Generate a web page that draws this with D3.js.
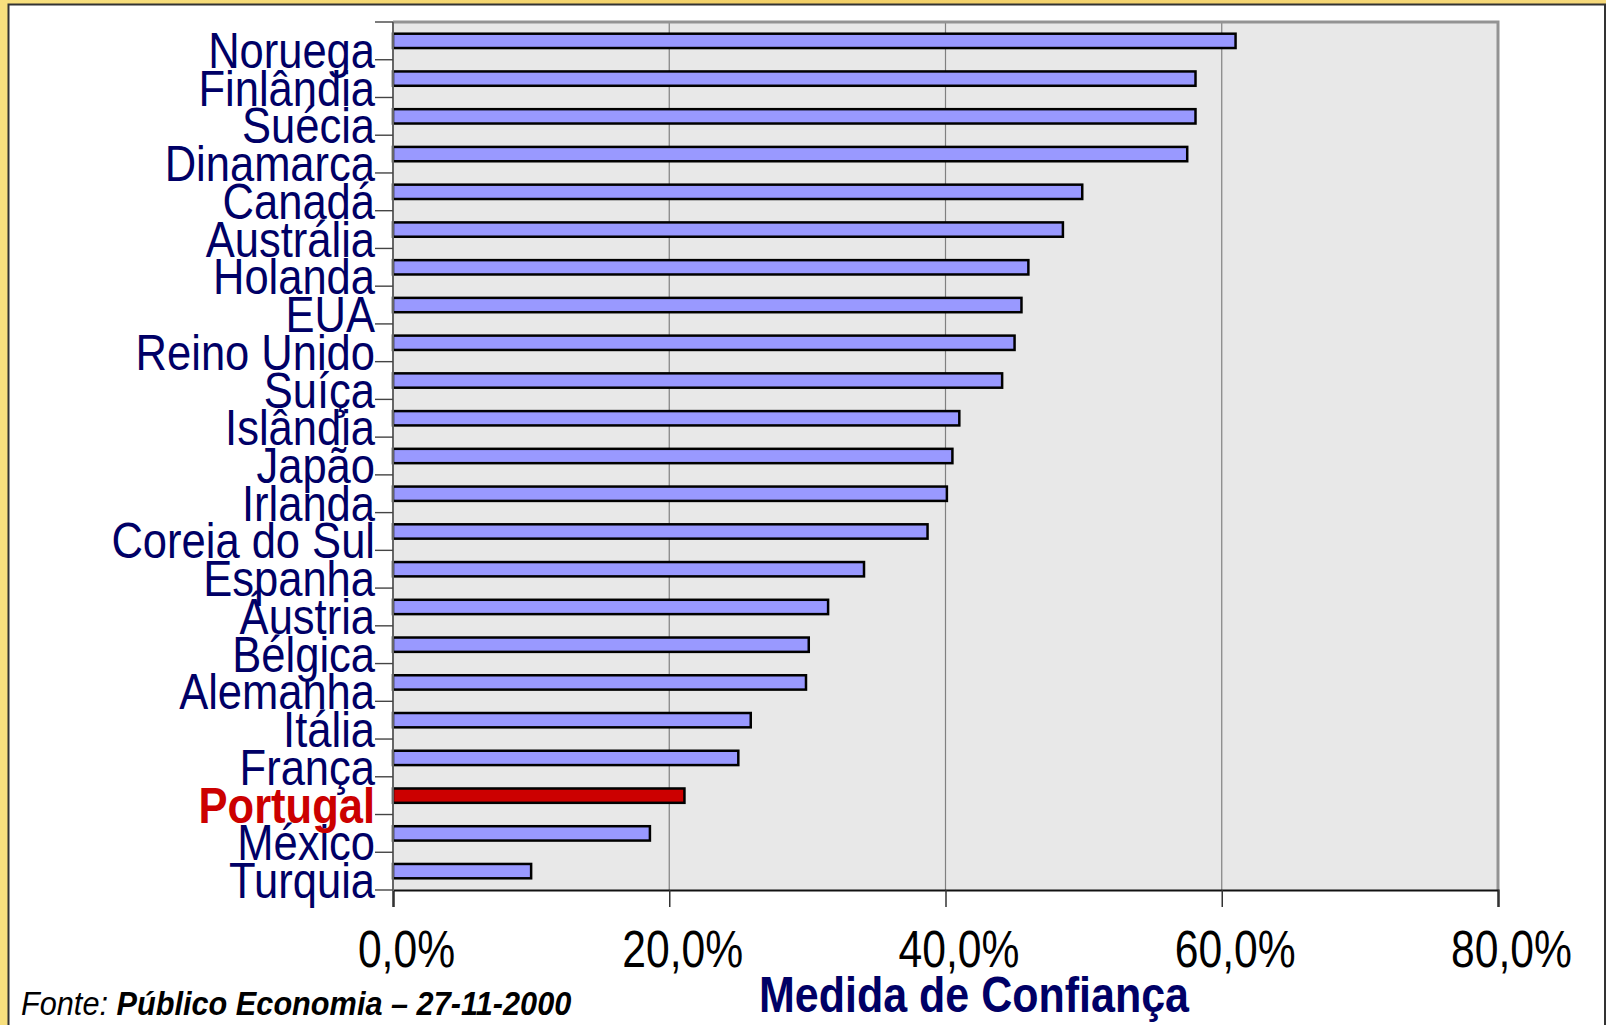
<!DOCTYPE html>
<html>
<head>
<meta charset="utf-8">
<title>Medida de Confiança</title>
<script src="https://cdn.jsdelivr.net/npm/d3@7"></script>
<style>
  html, body { margin: 0; padding: 0; background: #fff; }
  svg { display: block; }
  .narrow { font-family: "Liberation Sans", Arial, sans-serif; }
</style>
</head>
<body>
<div id="chart"></div>
<script>
//----------------------------DATA------------------------------//
const countries = ["Noruega", "Finlândia", "Suécia", "Dinamarca", "Canadá",
  "Austrália", "Holanda", "EUA", "Reino Unido", "Suíça", "Islândia", "Japão",
  "Irlanda", "Coreia do Sul", "Espanha", "Áustria", "Bélgica", "Alemanha",
  "Itália", "França", "Portugal", "México", "Turquia"];
const confianca = [61.0, 58.1, 58.1, 57.5, 49.9, 48.5, 46.0, 45.5, 45.0, 44.1,
  41.0, 40.5, 40.1, 38.7, 34.1, 31.5, 30.1, 29.9, 25.9, 25.0, 21.1, 18.6, 10.0];
const highlight = "Portugal";
const xTicks = [0, 20, 40, 60, 80];
const axisTitle = "Medida de Confiança";
const sourceLabel = "Fonte: ";
const sourceText = "Público Economia – 27-11-2000";

const data = countries.map((c, i) => ({ country: c, value: confianca[i] }));

//----------------------------SVG-------------------------------//
const width = 1606;
const height = 1025;
const plot = { left: 393, right: 1498, top: 22, bottom: 890 };
// no narrow face is installed, so regular text is squeezed sideways
const squeeze = 0.87;

const svg = d3.select("#chart").append("svg")
    .attr("width", width)
    .attr("height", height);

const defs = svg.append("defs");
const grad = defs.append("linearGradient")
    .attr("id", "frame")
    .attr("x1", "0").attr("y1", "0").attr("x2", "1").attr("y2", "0");
grad.append("stop").attr("offset", "0%").attr("stop-color", "#f8e07e");
grad.append("stop").attr("offset", "50%").attr("stop-color", "#f2cf66");
grad.append("stop").attr("offset", "100%").attr("stop-color", "#f6d97a");

// yellow frame and white panel
svg.append("rect")
    .attr("width", width).attr("height", height)
    .attr("fill", "url(#frame)");
svg.append("rect")
    .attr("x", 8.5).attr("y", 4.5)
    .attr("width", width - 9.5).attr("height", height + 10)
    .attr("fill", "#fff")
    .attr("stroke", "#333")
    .attr("stroke-width", 2);

//---------------------------SCALES-----------------------------//
const x = d3.scaleLinear()
    .domain([0, 80])
    .range([plot.left, plot.right]);

const y = d3.scaleBand()
    .domain(countries)
    .range([plot.top, plot.bottom])
    .paddingInner(0.62)
    .paddingOuter(0.31);

const pct = d => d.toFixed(1).replace(".", ",") + "%";

//---------------------------PLOT AREA--------------------------//
svg.append("rect")
    .attr("x", plot.left).attr("y", plot.top)
    .attr("width", plot.right - plot.left)
    .attr("height", plot.bottom - plot.top)
    .attr("fill", "#e8e8e8");

// vertical gridlines
svg.append("g")
    .selectAll("line")
    .data(xTicks.slice(1, -1))
    .enter().append("line")
    .attr("x1", d => x(d)).attr("x2", d => x(d))
    .attr("y1", plot.top).attr("y2", plot.bottom)
    .attr("stroke", "#808080")
    .attr("stroke-width", 1.2);

// top and right border
svg.append("path")
    .attr("d", `M${plot.left},${plot.top}H${plot.right}V${plot.bottom}`)
    .attr("fill", "none")
    .attr("stroke", "#939393")
    .attr("stroke-width", 3);

//-----------------------------BARS-----------------------------//
svg.append("g")
    .selectAll("rect")
    .data(data)
    .enter().append("rect")
    .attr("x", x(0))
    .attr("y", d => y(d.country))
    .attr("width", d => x(d.value) - x(0))
    .attr("height", y.bandwidth())
    .attr("fill", d => d.country === highlight ? "#cc0000" : "#9999ff")
    .attr("stroke", "#000")
    .attr("stroke-width", 2.5);

//-----------------------------AXES-----------------------------//
const xaxis = d3.axisBottom(x)
    .tickValues(xTicks)
    .tickSize(17)
    .tickFormat(pct);

const gx = svg.append("g")
    .attr("transform", `translate(0,${plot.bottom})`)
    .call(xaxis);
gx.select(".domain").attr("stroke", "#111").attr("stroke-width", 2.2);
gx.selectAll(".tick line").attr("stroke", "#333").attr("stroke-width", 1.5);
gx.selectAll(".tick text")
    .attr("class", "narrow")
    .attr("font-size", 52)
    .attr("fill", "#000")
    .attr("x", 0)
    .attr("y", 0)
    .attr("dy", 0)
    .attr("transform", `translate(13,77) scale(0.82,1)`);

// left axis: ticks sit on the category boundaries
const step = y.step();
const bounds = countries.map(c => y(c) + y.bandwidth() / 2 - step / 2)
    .concat([y(countries[countries.length - 1]) + y.bandwidth() / 2 + step / 2]);

const gy = svg.append("g");
gy.append("line")
    .attr("x1", plot.left).attr("x2", plot.left)
    .attr("y1", plot.top).attr("y2", plot.bottom + 1)
    .attr("stroke", "#666")
    .attr("stroke-width", 2);
gy.selectAll(".btick")
    .data(bounds)
    .enter().append("line")
    .attr("class", "btick")
    .attr("x1", plot.left - 18).attr("x2", plot.left)
    .attr("y1", d => d).attr("y2", d => d)
    .attr("stroke", "#444")
    .attr("stroke-width", 1.4);

gy.selectAll(".label")
    .data(data)
    .enter().append("text")
    .attr("class", "narrow label")
    .attr("transform", d =>
      `translate(375,${y(d.country) + y.bandwidth() / 2 + 27}) scale(${squeeze},1)`)
    .attr("text-anchor", "end")
    .attr("font-size", 50)
    .attr("font-weight", d => d.country === highlight ? "bold" : "normal")
    .attr("fill", d => d.country === highlight ? "#cc0000" : "#000066")
    .text(d => d.country);

//---------------------------TITLES-----------------------------//
svg.append("text")
    .attr("class", "narrow")
    .attr("transform", "translate(974,1012) scale(0.86,1)")
    .attr("text-anchor", "middle")
    .attr("font-size", 50)
    .attr("font-weight", "bold")
    .attr("fill", "#000066")
    .text(axisTitle);

const src = svg.append("text")
    .attr("class", "narrow")
    .attr("transform", "translate(21,1015) scale(0.93,1)")
    .attr("font-size", 33)
    .attr("font-style", "italic")
    .attr("fill", "#000");
src.append("tspan").text(sourceLabel);
src.append("tspan").attr("font-weight", "bold").text(sourceText);
</script>
</body>
</html>
